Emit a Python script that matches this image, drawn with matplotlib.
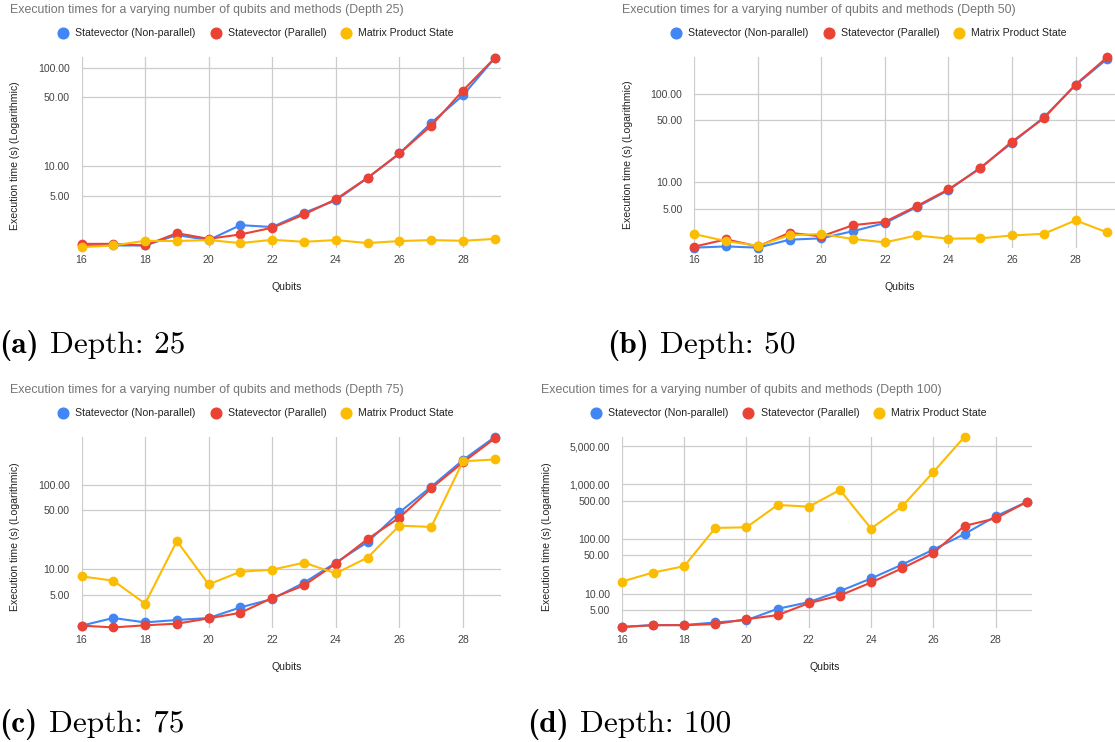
import numpy as np
import matplotlib
matplotlib.use("Agg")
import matplotlib.pyplot as plt
from matplotlib.lines import Line2D
from matplotlib.ticker import FixedLocator, FuncFormatter, NullLocator

plt.rcParams['font.family'] = ['Liberation Sans', 'DejaVu Sans']

qubits = list(range(16, 30))
series_names = ["Statevector (Non-parallel)", "Statevector (Parallel)", "Matrix Product State"]
series_colors = ["#4285F4", "#EA4335", "#FBBC04"]

d25_sv = [1.56, 1.56, 1.56, 1.99, 1.77, 2.51, 2.40, 3.35, 4.48, 7.55, 13.4, 27.4, 52.3, 125]
d25_svp = [1.62, 1.62, 1.56, 2.08, 1.82, 2.02, 2.36, 3.22, 4.6, 7.6, 13.4, 25.7, 58.4, 125]
d25_mps = [1.50, 1.56, 1.74, 1.73, 1.77, 1.65, 1.78, 1.70, 1.77, 1.65, 1.73, 1.77, 1.74, 1.82]

d50_sv = [1.82, 1.88, 1.82, 2.24, 2.32, 2.80, 3.45, 5.22, 8.12, 14.6, 27.8, 54.1, 125, 248]
d50_svp = [1.87, 2.26, 1.88, 2.68, 2.44, 3.27, 3.57, 5.36, 8.3, 14.3, 28.8, 52.7, 127, 259]
d50_mps = [2.59, 2.16, 1.91, 2.52, 2.59, 2.28, 2.09, 2.50, 2.30, 2.32, 2.50, 2.61, 3.70, 2.71]

d75_sv = [2.15, 2.65, 2.35, 2.51, 2.65, 3.54, 4.45, 6.95, 12.0, 21.1, 47.4, 95.5, 198, 371]
d75_svp = [2.15, 2.05, 2.17, 2.27, 2.62, 3.06, 4.57, 6.46, 11.7, 22.9, 41.0, 91.3, 186, 357]
d75_mps = [8.26, 7.34, 3.92, 21.7, 6.64, 9.38, 9.91, 12.0, 8.97, 13.8, 33.0, 31.8, 191, 201]

d100_sv = [2.47, 2.65, 2.66, 2.97, 3.27, 5.27, 6.98, 11.1, 18.9, 34.0, 63.8, 123, 259, 474]
d100_svp = [2.44, 2.65, 2.65, 2.77, 3.41, 4.04, 6.69, 9.23, 16.0, 29.1, 55.5, 173, 238, 474]
d100_mps = [16.6, 24.3, 31.7, 159, 163, 418, 389, 785, 155, 395, 1672, 7390, np.nan, np.nan]

depths = [25, 50, 75, 100]
cap_labels = ["(a)", "(b)", "(c)", "(d)"]
all_data = [(d25_sv, d25_svp, d25_mps), (d50_sv, d50_svp, d50_mps),
            (d75_sv, d75_svp, d75_mps), (d100_sv, d100_svp, d100_mps)]
yticks_small = [5, 10, 50, 100]
yticks_big = [5, 10, 50, 100, 500, 1000, 5000]
xticks = [16, 18, 20, 22, 24, 26, 28]

W, H = 1115, 742
fig = plt.figure(figsize=(W / 100, H / 100), dpi=100)
renderer = fig.canvas.get_renderer()

def fx(px):
    return px / W

def fy(py):
    return 1 - py / H

# layout (pixel coordinates)
panels = [
    dict(x16=81.5, x29=494.8, xr=500.7, top=57.3, bot=248.3, ylim=(1.46, 127), yt=yticks_small,
         title=(9.7, 10), leg=(62.8, 33.3), ylab=(15, 156), xlab=(287, 286.7), cap=(-1, 353)),
    dict(x16=694.3, x29=1107.3, xr=1116, top=57.3, bot=248.3, ylim=(1.79, 258), yt=yticks_small,
         title=(622, 10), leg=(676, 33.3), ylab=(628, 155), xlab=(900, 286.7), cap=(606.7, 353)),
    dict(x16=81.5, x29=494.8, xr=500.7, top=436.7, bot=628.3, ylim=(2.0, 374), yt=yticks_small,
         title=(9.7, 390), leg=(62.8, 413.3), ylab=(15, 537), xlab=(287, 667), cap=(-1, 732)),
    dict(x16=621.9, x29=1026.8, xr=1032.5, top=436.7, bot=627.7, ylim=(2.38, 7400), yt=yticks_big,
         title=(541, 390), leg=(595.6, 413.3), ylab=(547, 537), xlab=(824.3, 667), cap=(526.7, 732)),
]

CAP_FS = 22.6

for p, depth, data, clab in zip(panels, depths, all_data, cap_labels):
    unit = (p['x29'] - p['x16']) / 13.0
    xright = 29 + (p['xr'] - p['x29']) / unit
    ax = fig.add_axes([fx(p['x16']), fy(p['bot']), fx(p['xr'] - p['x16']), (p['bot'] - p['top']) / H])
    ax.set_yscale('log')
    ax.set_xlim(16, xright)
    ax.set_ylim(*p['ylim'])
    ax.xaxis.set_major_locator(FixedLocator(xticks))
    ax.yaxis.set_major_locator(FixedLocator(p['yt']))
    ax.yaxis.set_minor_locator(NullLocator())
    ax.yaxis.set_major_formatter(FuncFormatter(lambda v, pos: f"{v:,.2f}"))
    ax.tick_params(axis='both', length=0, labelsize=7.6, labelcolor='#444444')
    ax.tick_params(axis='y', pad=8.6)
    ax.tick_params(axis='x', pad=5.0)
    ax.grid(True, color='#cccccc', linewidth=0.9)
    ax.set_axisbelow(True)
    for s in ax.spines.values():
        s.set_visible(False)
    for vals, col in zip(data, series_colors):
        ax.plot(qubits, vals, color=col, linewidth=1.5, marker='o', markersize=6.0,
                clip_on=False, zorder=3)
    # title
    fig.text(fx(p['title'][0]), fy(p['title'][1]),
             f"Execution times for a varying number of qubits and methods (Depth {depth})",
             fontsize=8.9, color='#757575', ha='left', va='center')
    # legend
    lx, ly = p['leg']
    offs = [0, 152.8, 283]
    for name, col, o in zip(series_names, series_colors, offs):
        fig.add_artist(Line2D([fx(lx + o)], [fy(ly)], marker='o', markersize=7.7, color=col,
                              linestyle='none', transform=fig.transFigure))
        fig.text(fx(lx + o + 12.3), fy(ly), name, fontsize=7.55, color='#222222',
                 ha='left', va='center')
    # axis labels
    fig.text(fx(p['ylab'][0]), fy(p['ylab'][1]), "Execution time (s) (Logarithmic)",
             rotation=90, fontsize=7.6, color='#222222', ha='center', va='center')
    fig.text(fx(p['xlab'][0]), fy(p['xlab'][1]), "Qubits", fontsize=7.6, color='#222222',
             ha='center', va='center')
    # caption (bold label + roman text)
    t1 = fig.text(fx(p['cap'][0]), fy(p['cap'][1]), clab, family='cmb10', fontsize=CAP_FS,
                  color='black', ha='left', va='baseline')
    bb = t1.get_window_extent(renderer)
    fig.text(fx(bb.x1 + 11.5), fy(p['cap'][1]), f"Depth: {depth}", family='cmr10',
             fontsize=CAP_FS, color='black', ha='left', va='baseline')

fig.savefig("out.png", dpi=100)
